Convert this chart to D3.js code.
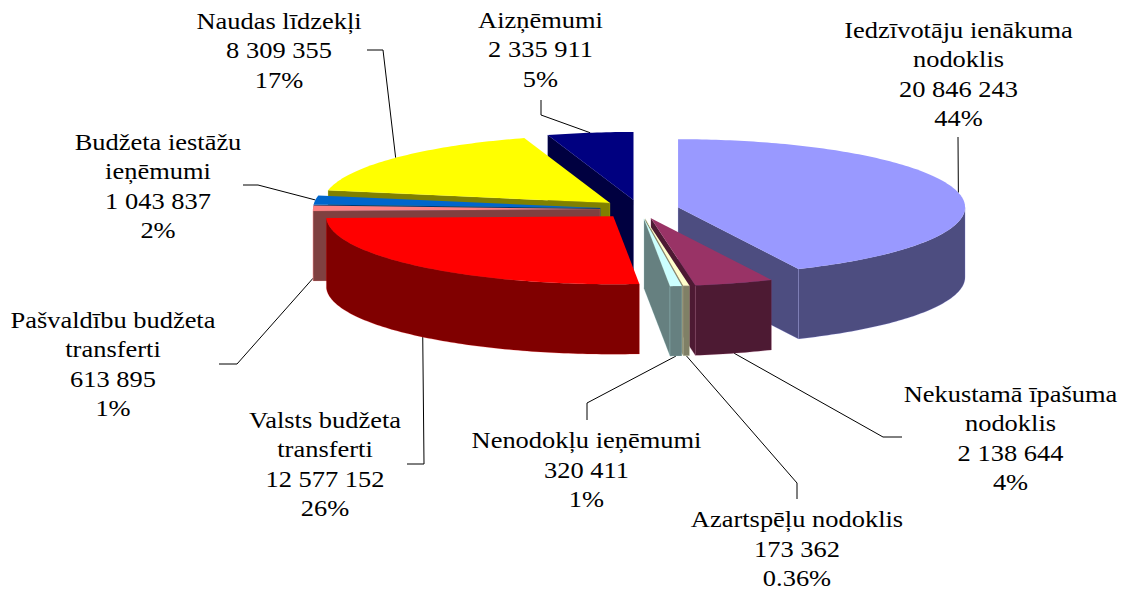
<!DOCTYPE html>
<html lang="lv">
<head>
    <meta charset="UTF-8">
    <title>Ieņēmumi</title>
    <script src="https://d3js.org/d3.v7.min.js"></script>
    <style>
        html, body { margin: 0; background: #fff; }
        text { font-family: "Liberation Serif", serif; font-size: 22.5px; fill: #000; }
    </style>
</head>
<body>
    <svg id="chart" width="1122" height="592"></svg>
    <script>
        // Data
        const categories = [
            "Iedzīvotāju ienākuma nodoklis", "Nekustamā īpašuma nodoklis", "Azartspēļu nodoklis",
            "Nenodokļu ieņēmumi", "Valsts budžeta transferti", "Pašvaldību budžeta transferti",
            "Budžeta iestāžu ieņēmumi", "Naudas līdzekļi", "Aizņēmumi"
        ];
        const values = [20846243, 2138644, 173362, 320411, 12577152, 613895, 1043837, 8309355, 2335911];
        const valueLabels = ["20 846 243", "2 138 644", "173 362", "320 411", "12 577 152", "613 895", "1 043 837", "8 309 355", "2 335 911"];
        const percentLabels = ["44%", "4%", "0.36%", "1%", "26%", "1%", "2%", "17%", "5%"];
        const nameLines = [
            ["Iedzīvotāju ienākuma", "nodoklis"], ["Nekustamā īpašuma", "nodoklis"], ["Azartspēļu nodoklis"],
            ["Nenodokļu ieņēmumi"], ["Valsts budžeta", "transferti"], ["Pašvaldību budžeta", "transferti"],
            ["Budžeta iestāžu", "ieņēmumi"], ["Naudas līdzekļi"], ["Aizņēmumi"]
        ];
        const colors = ["#9999ff", "#993366", "#ffffcc", "#ccffff", "#ff0000", "#ff8080", "#0066cc", "#ffff00", "#000080"];

        // Layout
        const cx = 639.5, cy = 209.2, rx = 287, ry = 68, depth = 70, explode = 0.1376;
        const labelX = [958.5, 1010.5, 797, 586.5, 325, 113, 158, 279, 540.5];
        const labelTop = [38, 402, 527.5, 448.5, 428, 328, 150, 29, 28];
        // elbow of each leader line, then its end next to the label
        const elbows = [[958, 137], [883, 437], [797, 483], [587, 403], [424, 464], [237, 364], [258, 185], [383, 50], [541, 115]];
        const ends = [[958, 137], [902, 437], [797, 499], [587, 420], [407, 464], [219, 364], [243, 185], [367, 50], [541, 100]];
        const lineHeight = 29.5, textStretch = 1.176;

        const svg = d3.select("#chart");
        const arcs = d3.pie().sort(null).value(d => d)(values);

        // angle is clockwise from the top of the pie
        const proj = (o, a, r) => [o[0] + r * rx * Math.sin(a), o[1] - r * ry * Math.cos(a)];

        const slices = arcs.map((d, i) => {
            const mid = (d.startAngle + d.endAngle) / 2;
            return { i, s: d.startAngle, e: d.endAngle, mid, apex: proj([cx, cy], mid, explode) };
        });

        const line = d3.line();
        const arcPoints = (o, a0, a1) => {
            const n = Math.max(2, Math.ceil((a1 - a0) * 60));
            return d3.range(n + 1).map(k => proj(o, a0 + (a1 - a0) * k / n, 1));
        };
        const down = p => [p[0], p[1] + depth];

        // leader lines sit under the slices
        slices.forEach(d => {
            const p = proj(d.apex, d.mid, 1);
            const front = Math.cos(d.mid) < 0 || d.i === 5;
            const start = front ? down(p) : p;
            svg.append("path")
                .attr("d", line([start, elbows[d.i], ends[d.i]]))
                .attr("fill", "none")
                .attr("stroke", "#000")
                .attr("stroke-width", 1);
        });

        // back slices first
        const order = slices.slice().sort((a, b) => a.apex[1] - b.apex[1]);
        order.forEach(d => {
            const top = colors[d.i];
            const c = d3.rgb(top);
            const wall = d3.rgb(c.r / 2, c.g / 2, c.b / 2).formatHex();
            const g = svg.append("g");
            const face = pts => g.append("path")
                .attr("d", line(pts) + "Z")
                .attr("fill", wall)
                .attr("stroke", top)
                .attr("stroke-opacity", 0.3)
                .attr("stroke-width", 0.6);

            // radial walls that face the viewer
            if (Math.sin(d.s) < 0) {
                const o = proj(d.apex, d.s, 1);
                face([d.apex, o, down(o), down(d.apex)]);
            }
            if (Math.sin(d.e) > 0) {
                const o = proj(d.apex, d.e, 1);
                face([d.apex, o, down(o), down(d.apex)]);
            }
            // outer rim, front half only
            const a0 = Math.max(d.s, Math.PI / 2), a1 = Math.min(d.e, Math.PI * 1.5);
            if (a1 > a0) {
                const rim = arcPoints(d.apex, a0, a1);
                face(rim.concat(rim.map(down).reverse()));
            }
            g.append("path")
                .attr("d", line([d.apex].concat(arcPoints(d.apex, d.s, d.e))) + "Z")
                .attr("fill", top);
        });

        // labels, the original text is drawn a bit wider than the font
        categories.forEach((name, i) => {
            const lines = nameLines[i].concat(valueLabels[i], percentLabels[i]);
            const t = svg.append("text")
                .attr("text-anchor", "middle")
                .attr("transform", `translate(${labelX[i]},0) scale(${textStretch},1)`);
            lines.forEach((s, k) => {
                t.append("tspan")
                    .attr("x", 0)
                    .attr("y", labelTop[i] + k * lineHeight)
                    .text(s);
            });
        });
    </script>
</body>
</html>
